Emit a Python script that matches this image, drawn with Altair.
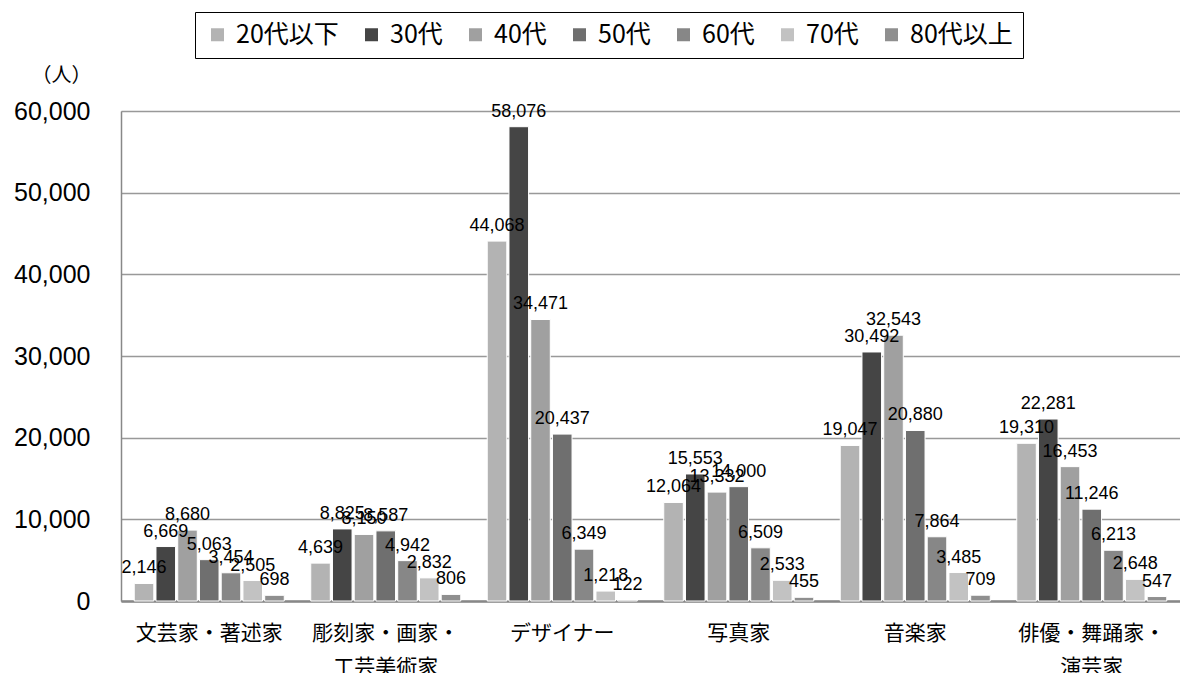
import altair as alt
import pandas as pd

categories = ["文芸家・著述家", "彫刻家・画家・\n工芸美術家", "デザイナー", "写真家", "音楽家", "俳優・舞踊家・\n演芸家"]
ages = ["20代以下", "30代", "40代", "50代", "60代", "70代", "80代以上"]
colors = ["#b3b3b3", "#454545", "#a0a0a0", "#6f6f6f", "#878787", "#c2c2c2", "#8f8f8f"]

v_bungei = [2146, 6669, 8680, 5063, 3454, 2505, 698]
v_choukoku = [4639, 8825, 8150, 8587, 4942, 2832, 806]
v_design = [44068, 58076, 34471, 20437, 6349, 1218, 122]
v_photo = [12064, 15553, 13332, 14000, 6509, 2533, 455]
v_music = [19047, 30492, 32543, 20880, 7864, 3485, 709]
v_actor = [19310, 22281, 16453, 11246, 6213, 2648, 547]

series = [v_bungei, v_choukoku, v_design, v_photo, v_music, v_actor]
rows = []
for cat, vals in zip(categories, series):
    for age, v in zip(ages, vals):
        rows.append({"cat": cat, "age": age, "value": v})
df = pd.DataFrame(rows)

jp = "Noto Sans CJK JP"

x = alt.X("cat:N", sort=categories, title=None,
          scale=alt.Scale(paddingInner=0.15, paddingOuter=0.075),
          axis=alt.Axis(labelAngle=0, labelFont=jp, labelFontSize=21, labelColor="#000",
                        labelPadding=21, labelLineHeight=34, ticks=False,
                        domainColor="#888888", domainWidth=2.5, labelOverlap=False,
                        labelExpr="split(datum.label, '\\n')"))
xo = alt.XOffset("age:N", sort=ages, scale=alt.Scale(paddingInner=0.1))
y = alt.Y("value:Q", title="（人）",
          scale=alt.Scale(domain=[0, 60000], nice=False),
          axis=alt.Axis(values=[0, 10000, 20000, 30000, 40000, 50000, 60000],
                        labelExpr="format(datum.value, ',')",
                        labelFont="Liberation Sans", labelFontSize=25, labelColor="#000",
                        labelPadding=31, ticks=False, domainColor="#888888", domainWidth=1.5,
                        gridColor="#999999", gridWidth=1.5,
                        titleAngle=0, titleFont=jp, titleFontSize=20, titleFontWeight="normal",
                        titleColor="#000", titleX=-60, titleY=-36, titleAlign="center",
                        titleBaseline="middle"))

color = alt.Color("age:N", sort=ages, scale=alt.Scale(domain=ages, range=colors),
                  legend=alt.Legend(title=None, orient="none", legendX=74, legendY=-99,
                                    direction="horizontal", columns=7,
                                    labelFont=jp, labelFontSize=25, labelColor="#000",
                                    symbolType="square", symbolSize=169, symbolStrokeWidth=0,
                                    labelOffset=6, columnPadding=20,
                                    strokeColor="#000", padding=10))

base = alt.Chart(df).encode(x=x, xOffset=xo, y=y)
bars = base.mark_bar(stroke="white", strokeWidth=1).encode(color=color)
labels = base.mark_text(baseline="bottom", dy=-6, font="Liberation Sans", fontSize=18,
                        color="#000").encode(text=alt.Text("value:Q", format=","))

chart = (bars + labels).properties(
    width=1059, height=490,
    autosize=alt.AutoSizeParams(type="none"),
    padding={"left": 113, "top": 103, "right": 0, "bottom": 72},
).configure_view(stroke=None).configure(background="white")

chart.save("out.html", embed_options={"renderer": "svg", "actions": False})
